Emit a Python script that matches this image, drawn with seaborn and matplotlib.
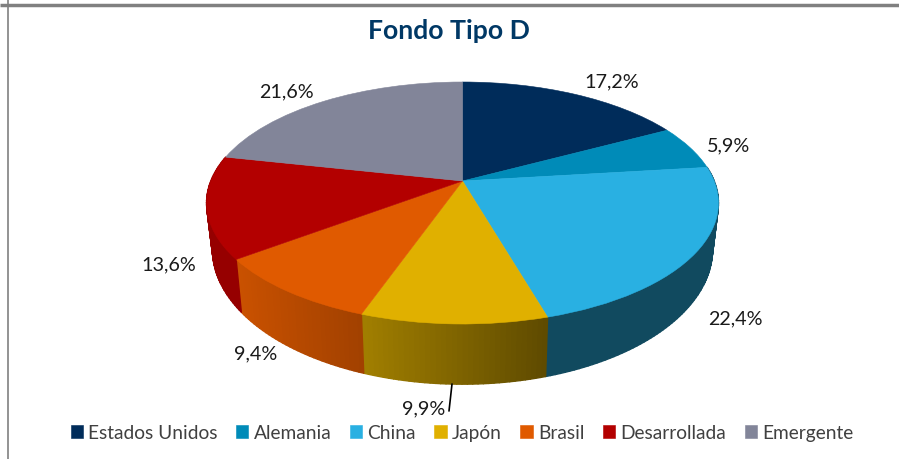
import numpy as np
import matplotlib
matplotlib.use("Agg")
import matplotlib.pyplot as plt
import matplotlib.transforms as mtransforms
from matplotlib.collections import PolyCollection
import seaborn as sns

categories = ["Estados Unidos", "Alemania", "China", "Japón", "Brasil", "Desarrollada", "Emergente"]
values = [17.2, 5.9, 22.4, 9.9, 9.4, 13.6, 21.6]
hex_colors = ["#002C5A", "#008BB8", "#29B0E2", "#E0B000", "#E05A00", "#B30000", "#828599"]

# layout (pixels of the 899x460 figure)
label_xy = [(612, 82), (728, 146), (735, 319), (424, 409), (256, 354), (169, 265), (286, 92)]
wall_shade = {2: (0.42, 0.42), 3: (0.72, 0.42), 4: (0.90, 0.72), 5: (0.84, 0.84)}

sns.set_theme(style="white")
plt.rcParams["font.family"] = ["Lato", "DejaVu Sans"]
palette = sns.color_palette(hex_colors)

fig = plt.figure(figsize=(8.99, 4.60), dpi=100)
ax = fig.add_axes([0, 0, 1, 1])


def project(u, v, cx, cy, a, b, p=0.1818):
    k = 1.0 / (1.0 + p * v)
    return cx + b * u * k, cy - a * v * k


class Perspective(mtransforms.Transform):
    input_dims = output_dims = 2
    is_separable = False

    def __init__(self, **geom):
        super().__init__()
        self.geom = geom

    def transform_non_affine(self, xy):
        xy = np.asarray(xy, dtype=float)
        X, Y = project(xy[:, 0], xy[:, 1], **self.geom)
        return np.column_stack([X, Y])


TOP = dict(cx=462.5, cy=182.0, a=117.0, b=251.7)
BOTTOM = dict(cx=462.5, cy=225.7, a=130.5, b=245.9)

wedges, _ = ax.pie(values, colors=palette, startangle=90, counterclock=False)
ax.set_aspect("auto")
ax.set_xlim(0, 899)
ax.set_ylim(460, 0)
ax.axis("off")

for w, c in zip(wedges, palette):
    w.set_transform(Perspective(**TOP) + ax.transData)
    w.set_zorder(3)
    w.set_edgecolor(c)
    w.set_linewidth(0.4)

# side wall, one thin quad per step, shaded across each slice
edges = np.concatenate([[0], np.cumsum(values)]) / np.sum(values) * 2 * np.pi
quads, quad_cols = [], []
for i, (lo, hi) in wall_shade.items():
    t = np.linspace(edges[i], edges[i + 1], max(int(np.degrees(edges[i + 1] - edges[i])), 2) + 1)
    xt, yt = project(np.sin(t), np.cos(t), **TOP)
    xb, yb = project(np.sin(t), np.cos(t), **BOTTOM)
    span = abs(xt[0] - xt[-1])
    for j in range(len(t) - 1):
        quads.append([(xt[j], yt[j]), (xt[j + 1], yt[j + 1]), (xb[j + 1], yb[j + 1]), (xb[j], yb[j])])
        frac = abs(0.5 * (xt[j] + xt[j + 1]) - max(xt[0], xt[-1])) / span  # 0 at right
        shade = hi + (lo - hi) * frac
        quad_cols.append(tuple(np.array(palette[i]) * shade))
ax.add_collection(PolyCollection(quads, facecolors=quad_cols, edgecolors=quad_cols,
                                 linewidths=1.0, zorder=2))

# data labels
for val, (x, y) in zip(values, label_xy):
    ax.text(x, y, f"{val:.1f}%".replace(".", ","), ha="center", va="center",
            fontsize=14.2, color="#1A1A1A", zorder=5)
ax.plot([452, 449], [385, 412], color="black", lw=1.2, zorder=4)

ax.text(449, 31, "Fondo Tipo D", ha="center", va="center", fontsize=19.2,
        fontweight="bold", color="#003865")

# frame lines
ax.plot([0, 899], [5.7, 5.7], color="#808080", lw=2.5, solid_capstyle="butt")
ax.plot([7.8, 7.8], [0, 460], color="#808080", lw=1.2, solid_capstyle="butt")

leg = ax.legend(wedges, categories, ncol=7, loc="center", bbox_to_anchor=(462 / 899, 1 - 434 / 460),
                bbox_transform=ax.transAxes, frameon=False, fontsize=13.8,
                handlelength=0.64, handleheight=0.64, handletextpad=0.28, columnspacing=0.96,
                labelcolor="#404040", borderpad=0, borderaxespad=0)

fig.savefig("out.png", dpi=100)
